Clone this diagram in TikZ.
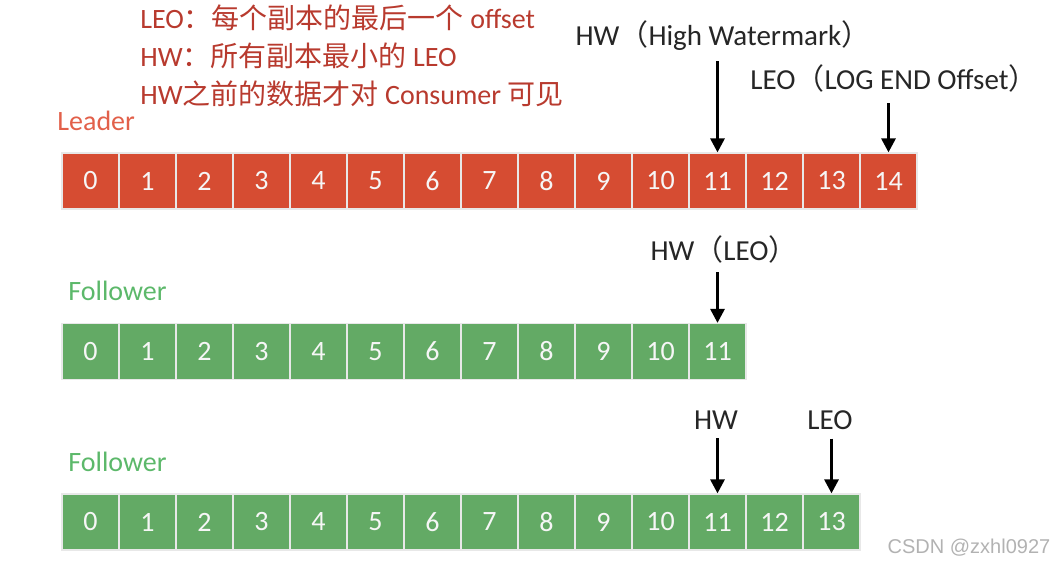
\documentclass[tikz,border=0pt]{standalone}
\usepackage{fontspec}
\setmainfont{Carlito}
\newfontfamily\cjk{Noto Sans CJK SC}
\newfontfamily\wmfont{Liberation Sans}
\usepackage{tikz}
\usetikzlibrary{arrows.meta,positioning}
\definecolor{leadred}{RGB}{214,76,50}
\definecolor{follgreen}{RGB}{99,170,101}
\definecolor{notered}{RGB}{184,58,46}
\definecolor{leadtag}{RGB}{226,96,74}
\definecolor{folltag}{RGB}{92,184,106}

\begin{document}
\begin{tikzpicture}[x=0.5pt,y=-0.5pt,
    cell/.style={draw=white!82!gray, line width=0.6pt, minimum width=28.5pt,
      minimum height=28pt, inner sep=0pt, text=white!93!gray,
      font=\fontsize{14}{16}\selectfont},
    leadcell/.style={cell, fill=leadred},
    follcell/.style={cell, fill=follgreen},
    tag/.style={anchor=base, inner sep=1pt, text=black!85,
      font=\fontsize{14.5}{17}\selectfont},
    rowname/.style={anchor=base west, inner sep=0pt, font=\fontsize{14}{16}\selectfont},
    note/.style={anchor=base west, inner sep=0pt, text=notered,
      font=\fontsize{14}{16}\selectfont},
    ptr/.style={-{Triangle[length=7pt,width=7pt]}, line width=1.5pt}]
        \useasboundingbox (0,0) rectangle (1054,565);
        % notes on top
        \node[note] (n1) at (140,29) {LEO{\cjk：每个副本的最后一个} offset};
        \node[note] (n2) at (140,67) {HW{\cjk：所有副本最小的} LEO};
        \node[note] (n3) at (140,105) {HW{\cjk 之前的数据才对} Consumer {\cjk 可见}};
        % leader row
        \node[rowname, text=leadtag] (lead) at (57,131) {Leader};
        \foreach \i in {0,...,14}
          \node[leadcell] (L\i) at ({62+57*(\i+0.5)},181) {\i};
        \node[tag] (hwL) at (723,46) {HW{\cjk（}High Watermark{\cjk）}};
        \node[tag] (leoL) at (894,90) {LEO{\cjk（}LOG END Offset{\cjk）}};
        \draw[ptr, shorten <=4pt] (hwL.south -| L11.north) -- (L11.north);
        \draw[ptr, shorten <=4pt] (leoL.south -| L14.north) -- (L14.north);
        % first follower
        \node[rowname, text=folltag] (foll1) at (68,301) {Follower};
        \foreach \i in {0,...,11}
          \node[follcell] (F\i) at ({62+57*(\i+0.5)},351.5) {\i};
        \node[tag] (hwF) at (724,261) {HW{\cjk（}LEO{\cjk）}};
        \draw[ptr, shorten <=3pt] (hwF.south -| F11.north) -- (F11.north);
        % second follower
        \node[rowname, text=folltag] (foll2) at (68,472) {Follower};
        \foreach \i in {0,...,13}
          \node[follcell] (G\i) at ({62+57*(\i+0.5)},522) {\i};
        \node[tag] (hwG) at (716,430) {HW};
        \node[tag] (leoG) at (830,430) {LEO};
        \draw[ptr, shorten <=3pt] (hwG.south -| G11.north) -- (G11.north);
        \draw[ptr, shorten <=3pt] (leoG.south -| G13.north) -- (G13.north);
        % watermark
        \node[inner sep=0pt, text=black!30, font=\wmfont\fontsize{10}{12}\selectfont]
          (wm) at (969,548) {CSDN @zxhl0927};
\end{tikzpicture}
\end{document}
